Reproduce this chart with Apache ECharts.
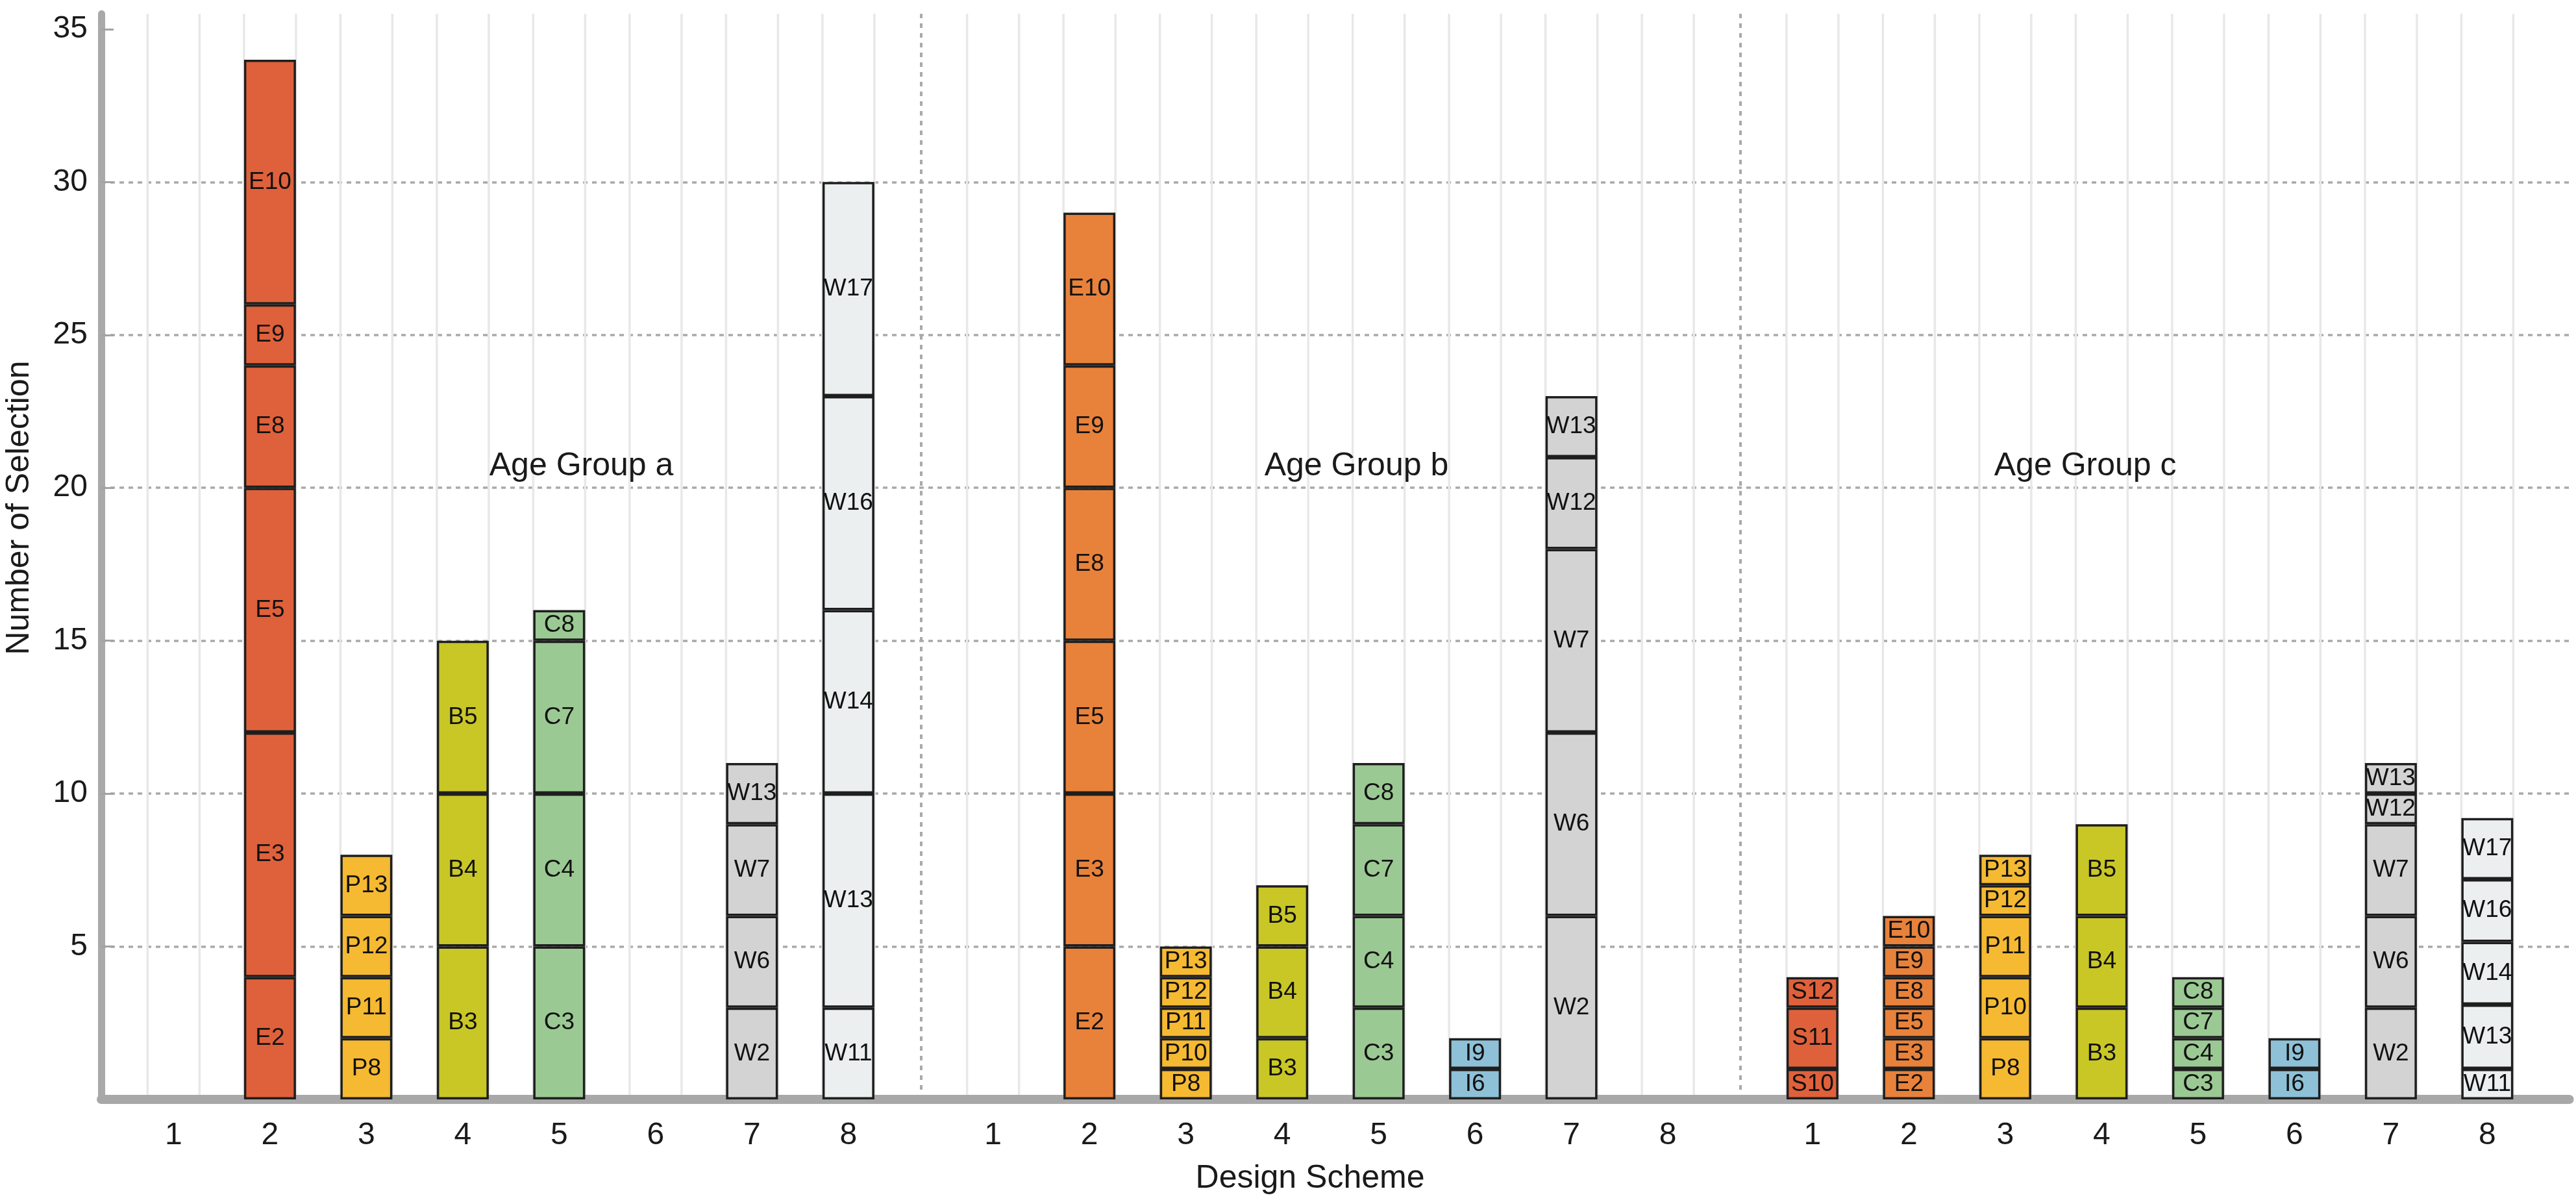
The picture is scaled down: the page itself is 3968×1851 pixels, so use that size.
<!DOCTYPE html>
<html>
<head>
<meta charset="utf-8">
<script src="https://cdn.jsdelivr.net/npm/echarts@6/dist/echarts.min.js"></script>
<style>
html,body{margin:0;padding:0;background:#ffffff;}
#chart{width:3968px;height:1851px;}
</style>
</head>
<body>
<div id="chart"></div>
<script>
// ---------------- data ----------------
const schemes = ['1', '2', '3', '4', '5', '6', '7', '8'];
const groupNames = ['Age Group a', 'Age Group b', 'Age Group c'];
const yTickValues = [5, 10, 15, 20, 25, 30, 35];
const gridLineValues = [5, 10, 15, 20, 25, 30];

// stacked segments per design scheme, bottom to top
const groupALabels = [[], ['E2', 'E3', 'E5', 'E8', 'E9', 'E10'], ['P8', 'P11', 'P12', 'P13'], ['B3', 'B4', 'B5'], ['C3', 'C4', 'C7', 'C8'], [], ['W2', 'W6', 'W7', 'W13'], ['W11', 'W13', 'W14', 'W16', 'W17']];
const groupAValues = [[], [4, 8, 8, 4, 2, 8], [2, 2, 2, 2], [5, 5, 5], [5, 5, 5, 1], [], [3, 3, 3, 2], [3, 7, 6, 7, 7]];

const groupBLabels = [[], ['E2', 'E3', 'E5', 'E8', 'E9', 'E10'], ['P8', 'P10', 'P11', 'P12', 'P13'], ['B3', 'B4', 'B5'], ['C3', 'C4', 'C7', 'C8'], ['I6', 'I9'], ['W2', 'W6', 'W7', 'W12', 'W13'], []];
const groupBValues = [[], [5, 5, 5, 5, 4, 5], [1, 1, 1, 1, 1], [2, 3, 2], [3, 3, 3, 2], [1, 1], [6, 6, 6, 3, 2], []];

const groupCLabels = [['S10', 'S11', 'S12'], ['E2', 'E3', 'E5', 'E8', 'E9', 'E10'], ['P8', 'P10', 'P11', 'P12', 'P13'], ['B3', 'B4', 'B5'], ['C3', 'C4', 'C7', 'C8'], ['I6', 'I9'], ['W2', 'W6', 'W7', 'W12', 'W13'], ['W11', 'W13', 'W14', 'W16', 'W17']];
const groupCValues = [[1, 2, 1], [1, 1, 1, 1, 1, 1], [2, 2, 2, 1, 1], [3, 3, 3], [1, 1, 1, 1], [1, 1], [3, 3, 3, 1, 1], [1, 2.1, 2.05, 2.05, 2]];

// ---------------- styles ----------------
const RED = '#df613b', ORANGE = '#e8823b', YELLOW = '#f5b932', OLIVE = '#c9c726',
      GREEN = '#9bc993', BLUE = '#8ec1d7', GREY = '#d3d3d3', LIGHT = '#ebeff0';
const groupAColors = [null, RED, YELLOW, OLIVE, GREEN, null, GREY, LIGHT];
const groupBColors = [null, ORANGE, YELLOW, OLIVE, GREEN, BLUE, GREY, null];
const groupCColors = [RED, ORANGE, YELLOW, OLIVE, GREEN, BLUE, GREY, LIGHT];

const FONT = "'Liberation Sans', Arial, Helvetica, sans-serif";
const TEXT = '#1a1a1a';

// ---------------- layout ----------------
const H = 1851;
const PLOT_LEFT = 156;       // y axis position
const STEP = 148.5;          // px per design-scheme slot
const ZERO_Y = 1693;         // px of value 0
const PX_PER_UNIT = 47.09;
const Y_MAX = 35.5;
const GRID_TOP = ZERO_Y - Y_MAX * PX_PER_UNIT;
const GRID_BOTTOM = H - ZERO_Y;
const GROUP_SPAN = 8.5;      // slots per age group (incl. margins)
const FRAME_SPAN = 25.6;
const BAR_W = 80;
const titleSlots = [4.98, 13.02, 20.58];
const TITLE_Y = 718;

const groups = [
  { labels: groupALabels, values: groupAValues, colors: groupAColors },
  { labels: groupBLabels, values: groupBValues, colors: groupBColors },
  { labels: groupCLabels, values: groupCValues, colors: groupCColors }
];

const grids = [{ left: PLOT_LEFT, top: GRID_TOP, bottom: GRID_BOTTOM, width: FRAME_SPAN * STEP, outerBoundsMode: 'none' }];
const xAxes = [{
  gridIndex: 0, type: 'value', min: 0, max: FRAME_SPAN,
  axisLine: { show: true, lineStyle: { color: '#a8a8a8', width: 14 } },
  offset: 7.5,
  axisTick: { show: false }, axisLabel: { show: false }, splitLine: { show: false }
}];
const yAxes = [{
  gridIndex: 0, type: 'value', min: 0, max: Y_MAX, interval: 5,
  axisLine: { show: true, lineStyle: { color: '#a9a9a9', width: 11 } },
  axisTick: { show: true, inside: true, length: 19, customValues: yTickValues, lineStyle: { color: '#a3a3a3', width: 3 } },
  axisLabel: { show: true, customValues: yTickValues, fontSize: 48, color: TEXT, margin: 21, fontFamily: FONT },
  splitLine: { show: false }
}];

const dotted = { color: '#a9a9a9', width: 3.5, type: [7, 7] };
const series = [{
  type: 'scatter', xAxisIndex: 0, yAxisIndex: 0, data: [[0, 0]], symbolSize: 0, silent: true, z: 0,
  markLine: {
    silent: true, symbol: 'none', animation: false, label: { show: false }, z: 0,
    data: gridLineValues.map(v => ({ yAxis: v, lineStyle: dotted }))
      .concat([1, 2].map(g => ({ xAxis: g * GROUP_SPAN, lineStyle: { color: '#a9a9a9', width: 4, type: [7, 8] } })))
  }
}];

groups.forEach((grp, g) => {
  const gi = g + 1;
  grids.push({ left: PLOT_LEFT + (g * GROUP_SPAN + 0.25) * STEP, width: 8 * STEP, top: GRID_TOP, bottom: GRID_BOTTOM, outerBoundsMode: 'none' });
  xAxes.push({
    gridIndex: gi, type: 'category', data: schemes,
    axisLine: { show: false }, axisTick: { show: false }, splitLine: { show: false },
    axisLabel: { fontSize: 48, color: TEXT, margin: 32, fontFamily: FONT }
  });
  yAxes.push({ gridIndex: gi, type: 'value', min: 0, max: Y_MAX, show: false });

  // light vertical guide lines at bar edges
  series.push({
    type: 'custom', xAxisIndex: gi, yAxisIndex: gi, silent: true, z: 0,
    data: schemes.map((s, i) => [i, 0]),
    encode: { x: 0, y: 1 },
    renderItem: (params, api) => {
      const p0 = api.coord([api.value(0), 0]);
      const p1 = api.coord([api.value(0), Y_MAX]);
      const hw = BAR_W / 2;
      const st = { stroke: '#e8e8e8', lineWidth: 3.5 };
      return {
        type: 'group', children: [
          { type: 'line', shape: { x1: p0[0] - hw, y1: p0[1], x2: p0[0] - hw, y2: p1[1] }, style: st },
          { type: 'line', shape: { x1: p0[0] + hw, y1: p0[1], x2: p0[0] + hw, y2: p1[1] }, style: st }
        ]
      };
    }
  });

  const levels = Math.max(...grp.values.map(v => v.length));
  for (let k = 0; k < levels; k++) {
    series.push({
      type: 'bar', xAxisIndex: gi, yAxisIndex: gi, stack: 'group' + g, barWidth: BAR_W, z: 6,
      itemStyle: { borderColor: '#1e1e1e', borderWidth: 3.5 },
      label: { show: true, position: 'inside', fontSize: 37, color: '#111', fontFamily: FONT },
      data: schemes.map((s, i) => {
        const v = grp.values[i][k];
        if (v === undefined) return '-';
        return { value: v, itemStyle: { color: grp.colors[i] }, label: { formatter: grp.labels[i][k] } };
      })
    });
  }
});

const graphic = [
  { type: 'text', x: 30, y: 782, rotation: Math.PI / 2,
    style: { text: 'Number of Selection', fontSize: 50, fontFamily: FONT, fill: TEXT, align: 'center', verticalAlign: 'middle' } },
  { type: 'text', x: 2018, y: 1815,
    style: { text: 'Design Scheme', fontSize: 50, fontFamily: FONT, fill: TEXT, align: 'center', verticalAlign: 'middle' } }
].concat(groupNames.map((n, g) => ({
  type: 'text', x: PLOT_LEFT + titleSlots[g] * STEP, y: TITLE_Y, z: 10,
  style: { text: n, fontSize: 50, fontFamily: FONT, fill: TEXT, align: 'center', verticalAlign: 'middle' }
})));

const chart = echarts.init(document.getElementById('chart'), null, { renderer: 'canvas' });
chart.setOption({
  backgroundColor: '#ffffff',
  animation: false,
  grid: grids,
  xAxis: xAxes,
  yAxis: yAxes,
  series: series,
  graphic: graphic
});
</script>
</body>
</html>
